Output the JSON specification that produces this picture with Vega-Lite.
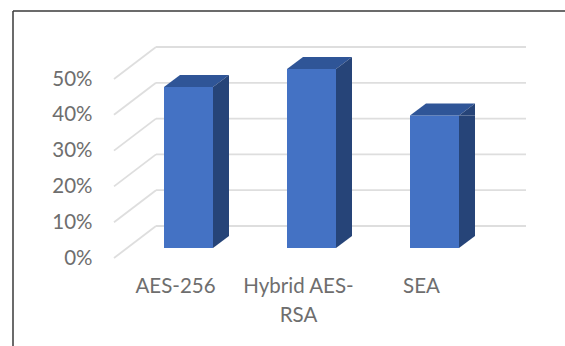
{
  "$schema": "https://vega.github.io/schema/vega-lite/v6.json",
  "width": 369,
  "height": 179,
  "autosize": {"type": "none"},
  "padding": {"left": 114, "top": 69, "right": 82, "bottom": 98},
  "background": "#ffffff",
  "view": {"stroke": null},
  "config": {
    "font": "Lato",
    "numberFormat": ".0%",
    "axisY": {
      "tickCount": 6,
      "grid": false,
      "domain": false,
      "ticks": false,
      "labelPadding": 22,
      "labelOffset": 10,
      "labelFontSize": 20.5,
      "labelColor": "#6e6e6e",
      "labelOverlap": false
    },
    "axisX": {
      "labelAngle": 0,
      "grid": false,
      "domain": false,
      "ticks": false,
      "labelPadding": 28,
      "labelBaseline": "top",
      "labelFontSize": 20.5,
      "labelLineHeight": 29,
      "labelColor": "#6e6e6e",
      "labelLimit": 0,
      "labelOverlap": false,
      "labelExpr": "datum.label == 'Hybrid AES-RSA' ? ['Hybrid AES-', 'RSA'] : datum.label"
    }
  },
  "datasets": {
    "bars": [
      {"method": "AES-256", "share": 0.45},
      {"method": "Hybrid AES-RSA", "share": 0.50},
      {"method": "SEA", "share": 0.37}
    ],
    "ticks": [
      {"level": 0}, {"level": 0.1}, {"level": 0.2}, {"level": 0.3}, {"level": 0.4}, {"level": 0.5}
    ]
  },
  "layer": [
    {
      "description": "Outer frame, top and left edges",
      "data": {"values": [{"edge": "frame"}]},
      "mark": {"type": "rule", "color": "#3a3a3a", "strokeWidth": 1.5},
      "encoding": {
        "x": {"value": -101},
        "x2": {"value": 451},
        "y": {"value": -58},
        "y2": {"value": -58}
      }
    },
    {
      "data": {"values": [{"edge": "frame"}]},
      "mark": {"type": "rule", "color": "#3a3a3a", "strokeWidth": 1.5},
      "encoding": {
        "x": {"value": -101},
        "x2": {"value": -101},
        "y": {"value": -58},
        "y2": {"value": 277}
      }
    },
    {
      "description": "Back wall gridlines",
      "data": {"name": "ticks"},
      "mark": {"type": "rule", "color": "#dedede", "strokeWidth": 1.8, "yOffset": -22},
      "encoding": {
        "x": {"value": 42},
        "x2": {"value": 412},
        "y": {"field": "level", "type": "quantitative", "title": null, "scale": {"domain": [0, 0.5]}}
      }
    },
    {
      "description": "Side wall gridlines running toward the viewer",
      "data": {"name": "ticks"},
      "mark": {"type": "point", "shape": "M0 10 L42 -22", "size": 4, "filled": false, "stroke": "#dedede", "strokeWidth": 1.8, "opacity": 1},
      "encoding": {
        "x": {"value": 0},
        "y": {"field": "level", "type": "quantitative", "title": null}
      }
    },
    {
      "description": "Front faces",
      "data": {"name": "bars"},
      "mark": {"type": "bar", "color": "#4472c4", "size": 49, "xOffset": 13},
      "encoding": {
        "x": {
          "field": "method",
          "type": "nominal",
          "sort": null,
          "title": null,
          "scale": {"paddingInner": 0, "paddingOuter": 0}
        },
        "y": {"field": "share", "type": "quantitative", "title": null}
      }
    },
    {
      "description": "Top faces",
      "data": {"name": "bars"},
      "mark": {"type": "point", "shape": "M-11.5 0 L37.5 0 L53.5 -12 L4.5 -12 Z", "size": 4, "filled": true, "color": "#2f5597", "opacity": 1},
      "encoding": {
        "x": {"field": "method", "type": "nominal", "sort": null, "title": null},
        "y": {"field": "share", "type": "quantitative", "title": null}
      }
    },
    {
      "description": "Side faces: body",
      "data": {"name": "bars"},
      "mark": {"type": "bar", "color": "#264478", "size": 16, "xOffset": 45.5, "y2Offset": -12},
      "encoding": {
        "x": {"field": "method", "type": "nominal", "sort": null, "title": null},
        "y": {"field": "share", "type": "quantitative", "title": null},
        "y2": {"datum": 0}
      }
    },
    {
      "description": "Side faces: slanted top and bottom ends",
      "data": {"name": "bars"},
      "mark": {"type": "point", "shape": "M37.5 0 L53.5 -12 L53.5 0 Z", "size": 4, "filled": true, "color": "#264478", "opacity": 1},
      "encoding": {
        "x": {"field": "method", "type": "nominal", "sort": null, "title": null},
        "y": {"field": "share", "type": "quantitative", "title": null}
      }
    },
    {
      "data": {"name": "bars"},
      "mark": {"type": "point", "shape": "M37.5 0 L37.5 -12 L53.5 -12 Z", "size": 4, "filled": true, "color": "#264478", "opacity": 1},
      "encoding": {
        "x": {"field": "method", "type": "nominal", "sort": null, "title": null},
        "y": {"datum": 0, "title": null}
      }
    }
  ]
}
